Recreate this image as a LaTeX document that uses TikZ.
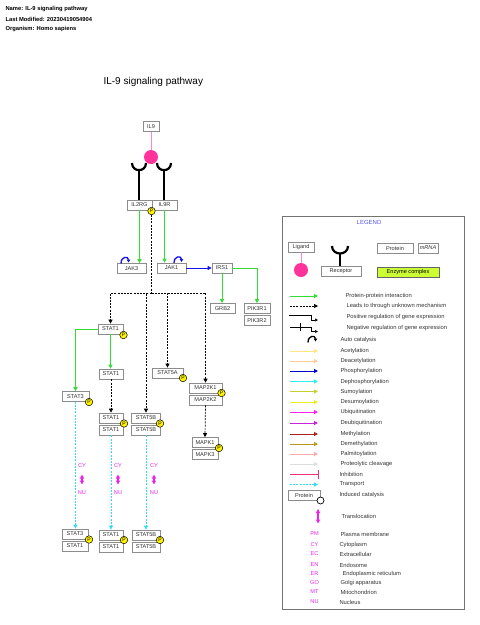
\documentclass[tikz,border=0pt]{standalone}
\usepackage{fontspec}
\setmainfont{Liberation Sans}
\usetikzlibrary{arrows.meta}
\definecolor{ppigreen}{HTML}{33DD33}
\definecolor{ligpink}{HTML}{FF3399}
\definecolor{ligline}{HTML}{FF88CC}
\definecolor{phosblue}{HTML}{1111EE}
\definecolor{transcyan}{HTML}{33DDEE}
\definecolor{locmag}{HTML}{EE22EE}
\definecolor{legblue}{HTML}{5555EE}
\definecolor{enzfill}{HTML}{CCFF33}
\definecolor{lgAcet}{HTML}{FFE680}
\definecolor{lgDeacet}{HTML}{FFCC99}
\definecolor{lgPhos}{HTML}{0000CC}
\definecolor{lgDephos}{HTML}{33EEEE}
\definecolor{lgSumo}{HTML}{CCCC33}
\definecolor{lgDesumo}{HTML}{EEEE22}
\definecolor{lgUbi}{HTML}{FF22EE}
\definecolor{lgDeubi}{HTML}{CC22DD}
\definecolor{lgMeth}{HTML}{AA2222}
\definecolor{lgDemeth}{HTML}{BB9922}
\definecolor{lgPalm}{HTML}{FFAAAA}
\definecolor{lgCleave}{HTML}{DDDDDD}
\definecolor{lgInhib}{HTML}{EE3377}
\tikzset{
  box/.style={
    draw=black!45,
    fill=white,
    line width=0.7pt,
    minimum height=10pt,
    inner sep=0pt,
    text=black!80,
    font=\fontsize{5.6}{6}\selectfont
  },
  pdot/.style={circle, draw=black, fill=yellow, line width=0.5pt,
    minimum size=7.5pt, inner sep=0pt, font=\fontsize{5}{5}\selectfont},
  ligand/.style={circle, fill=ligpink, minimum size=14pt, inner sep=0pt},
  head/.style={anchor=west, font=\bfseries\fontsize{5.8}{6}\selectfont},
  lbl/.style={anchor=west, text=black!80, font=\fontsize{5.8}{6}\selectfont},
  loc/.style={text=locmag, font=\fontsize{5.6}{6}\selectfont},
  tip/.style={-{Triangle[length=4pt,width=4pt]}},
  ppi/.style={ppigreen, line width=0.8pt, tip},
  unk/.style={black, line width=0.7pt, dash pattern=on 2pt off 1.2pt},
  transport/.style={transcyan, line width=0.8pt, dash pattern=on 2pt off 1.2pt, tip},
  transloc/.style={locmag, line width=1.2pt,
    {Triangle[length=4pt,width=4pt]}-{Triangle[length=4pt,width=4pt]}},
  cup/.style={black, line width=2.2pt},
  stem/.style={black, line width=1.2pt},
  autocat/.style={line width=1.3pt, -{Triangle[length=3pt,width=3.5pt]}}
}

\begin{document}
\begin{tikzpicture}[x=1pt,y=-1pt]
\useasboundingbox (0,0) rectangle (480,625);

% header
\node[head] (hname) at (2,9) {Name: IL-9 signaling pathway};
\node[head] (hmod) at (2,19.5) {Last Modified: 20230419054904};
\node[head] (horg) at (2,29) {Organism: Homo sapiens};
\node[anchor=west, font=\fontsize{10}{12}\selectfont] (title) at (100,82) {IL-9 signaling pathway};

% receptor complex
\node[box, minimum width=16pt] (il9) at (151,126.5) {IL9};
\node[box, minimum width=25pt] (il2rg) at (139.5,205) {IL2RG};
\node[box, minimum width=25pt] (il9r) at (164.5,205) {IL9R};
\draw[cup] (132,163) .. controls (132,172.5) and (146,172.5) .. (146,163);
\draw[cup] (157,163) .. controls (157,172.5) and (171,172.5) .. (171,163);
\coordinate (cupl) at (139,170);
\coordinate (cupr) at (164,170);
\draw[stem] (cupl) -- (cupl |- il2rg.north);
\draw[stem] (cupr) -- (cupr |- il9r.north);
\node[ligand] (lig) at (151,157) {};
\draw[ligline, line width=1pt] (il9.south) -- (lig.north);

% JAKs and IRS1
\node[box, minimum width=29pt] (jak3) at (131.5,268.5) {JAK3};
\node[box, minimum width=29pt] (jak1) at (171.5,268) {JAK1};
\node[box, minimum width=20pt] (irs1) at (222,268) {IRS1};
\draw[ppi] (il2rg.south) -- (il2rg.south |- jak3.north);
\draw[ppi] (il9r.south) -- (il9r.south |- jak1.north);
\draw[autocat, phosblue] (121,263.5) .. controls (121,256) and (128.5,256) .. (128.5,262.5);
\draw[autocat, phosblue] (174,263) .. controls (174,255.5) and (181.5,255.5) .. (181.5,262);
\draw[phosblue, line width=0.8pt, tip] (jak1.east) -- (irs1.west);
\node[box, minimum width=25pt] (grb2) at (222.5,308.5) {GRB2};
\node[box, minimum width=26pt] (pik3r1) at (257,308.5) {PIK3R1};
\node[box, minimum width=26pt] (pik3r2) at (257,320.5) {PIK3R2};
\draw[ppi] (irs1.south) -- (irs1.south |- grb2.north);
\draw[ppi] (irs1.east) -| (pik3r1.north);

% STATs and MAPKs
\node[box, minimum width=25pt] (stat1a) at (110.5,329) {STAT1};
\node[box, minimum width=27pt] (stat3) at (75.5,396.5) {STAT3};
\node[box, minimum width=24pt] (stat1b) at (111,374) {STAT1};
\node[box, minimum width=31pt] (stat5a) at (167.5,373) {STAT5A};
\node[box, minimum width=24pt] (stat1c) at (111,418) {STAT1};
\node[box, minimum width=24pt] (stat1d) at (111,430) {STAT1};
\node[box, minimum width=29pt] (stat5ba) at (146,418) {STAT5B};
\node[box, minimum width=29pt] (stat5bb) at (146,430) {STAT5B};
\node[box, minimum width=33pt] (map2k1) at (205.5,388) {MAP2K1};
\node[box, minimum width=33pt] (map2k2) at (205.5,400) {MAP2K2};
\node[box, minimum width=26pt] (mapk1) at (205,442.5) {MAPK1};
\node[box, minimum width=26pt] (mapk3) at (205,454.5) {MAPK3};
\node[box, minimum width=26pt] (stat3e) at (75,534) {STAT3};
\node[box, minimum width=26pt] (stat1e) at (75,546) {STAT1};
\node[box, minimum width=24pt] (stat1f) at (111,535) {STAT1};
\node[box, minimum width=24pt] (stat1g) at (111,547) {STAT1};
\node[box, minimum width=28pt] (stat5bc) at (146,535) {STAT5B};
\node[box, minimum width=28pt] (stat5bd) at (146,547) {STAT5B};

\coordinate (fork) at (151.5,293);
\node[pdot] (pr) at (151.5,211) {P};
\draw[unk] (pr.south) -- (fork);
\draw[unk, tip] (fork) -| (stat1a.north);
\draw[unk, tip] (fork) -| (stat5ba.north);
\draw[unk, tip] (fork) -| (stat5a.north);
\draw[unk, tip] (fork) -| (map2k1.north);
\draw[ppi] (stat1a.west) -| (stat3.north);
\draw[ppi] (stat1a.south) -- (stat1a.south |- stat1b.north);
\draw[unk, tip] (stat1b.south) -- (stat1c.north);
\draw[unk, tip] (map2k2.south) -- (mapk1.north);
\draw[transport] (stat3.south) -- (stat3.south |- stat3e.north);
\draw[transport] (stat1d.south) -- (stat1f.north);
\draw[transport] (stat5bb.south) -- (stat5bc.north);

\node[pdot] (p1) at (123.5,335) {P};
\node[pdot] (p2) at (89,402) {P};
\node[pdot] (p3) at (183,378) {P};
\node[pdot] (p4) at (124,423.5) {P};
\node[pdot] (p5) at (160,423.5) {P};
\node[pdot] (p6) at (221.5,393) {P};
\node[pdot] (p7) at (219,448) {P};
\node[pdot] (p8) at (89,539.5) {P};
\node[pdot] (p9) at (124,540) {P};
\node[pdot] (p10) at (160,540) {P};

% translocation CY -> NU
\foreach \x [count=\i] in {82,118,154} {
  \node[loc] (cy\i) at (\x,466) {CY};
  \node[loc] (nu\i) at (\x,493) {NU};
  \draw[transloc, shorten <=3pt, shorten >=3pt] (cy\i) -- (nu\i);
}

% legend
\draw[black!55, line width=0.6pt] (282,216) rectangle (464,609);
\node[text=legblue, font=\fontsize{6}{7}\selectfont] (legtitle) at (369,222.5) {LEGEND};
\node[box, minimum width=26pt] (lgligand) at (301,247) {Ligand};
\node[ligand] (lgcircle) at (301,270) {};
\draw[ligline, line width=1pt] (lgligand.south) -- (lgcircle.north);
\node[box, minimum width=40pt] (lgrec) at (341,271) {Receptor};
\draw[cup] (332,246) .. controls (332,256) and (348,256) .. (348,246);
\coordinate (lgcup) at (340,253.5);
\draw[stem] (lgcup) -- (lgcup |- lgrec.north);
\node[box, minimum width=36pt] (lgprot) at (395,248) {Protein};
\node[box, minimum width=20pt] (lgmrna) at (428,248) {\itshape mRNA};
\node[box, fill=enzfill, draw=black!60, text=black, minimum width=62pt] (lgenz) at (408,272) {Enzyme complex};

\draw[ppi, line width=1pt] (290,296) -- (318,296);
\node[lbl] at (342,296) {Protein-protein interaction};
\draw[unk, tip] (290,306) -- (318,306);
\node[lbl] at (343,306) {Leads to through unknown mechanism};
\draw[black, line width=0.6pt, -{Triangle[open,length=3pt,width=3pt]}] (289,315.5) -- (311,315.5) -- (311,320) -- (318,320);
\node[lbl] at (343,317) {Positive regulation of gene expression};
\draw[black, line width=0.6pt, -{Triangle[open,length=3pt,width=3pt]}] (290,327) -- (311,327) -- (311,331.5) -- (318,331.5);
\draw[black, line width=0.6pt] (300.5,323) -- (300.5,331);
\node[lbl] at (343,328) {Negative regulation of gene expression};
\draw[autocat, black] (308,342.5) .. controls (308,335) and (315.5,335) .. (315.5,341.5);
\node[lbl] at (337,340) {Auto catalysis};
\foreach \y/\c/\t in {351/lgAcet/Acetylation, 361/lgDeacet/Deacetylation,
    371/lgPhos/Phosphorylation, 381.5/lgDephos/Dephosphorylation,
    391.5/lgSumo/Sumoylation, 402/lgDesumo/Desumoylation,
    412/lgUbi/Ubiquitination, 423/lgDeubi/Deubiquitination,
    434/lgMeth/Methylation, 444/lgDemeth/Demethylation,
    454/lgPalm/Palmitoylation, 464/lgCleave/Proteolytic cleavage} {
  \draw[\c, line width=1pt, tip] (290,\y) -- (318,\y);
  \node[lbl] at (337,\y) {\t};
}
\draw[lgInhib, line width=1pt, -{Bar[width=9pt]}] (290,474) -- (319,474);
\node[lbl] at (336,474) {Inhibition};
\draw[transport, line width=1pt] (290,484.5) -- (318,484.5);
\node[lbl] at (336,484.5) {Transport};
\node[box, minimum width=32pt] (lgcat) at (304,495) {Protein};
\node[circle, draw=black, fill=white, line width=0.7pt, minimum size=7pt, inner sep=0pt] (lgcatdot) at (320.5,500.5) {};
\node[lbl] at (336,495) {Induced catalysis};
\coordinate (lgtla) at (318,509);
\coordinate (lgtlb) at (318,523.5);
\draw[transloc] (lgtla) -- (lgtlb);
\node[lbl] at (338,516) {Translocation};
\foreach \y/\a/\t/\x in {534/PM/Plasma membrane/337, 545/CY/Cytoplasm/336,
    554/EC/Extracellular/336, 565/EN/Endosome/336,
    574/ER/Endoplasmic reticulum/339, 583/GO/Golgi apparatus/337,
    592/MT/Mitochondrion/337, 602/NU/Nucleus/336} {
  \node[loc] at (314.5,\y) {\a};
  \node[lbl] at (\x,\y) {\t};
}
\end{tikzpicture}
\end{document}
